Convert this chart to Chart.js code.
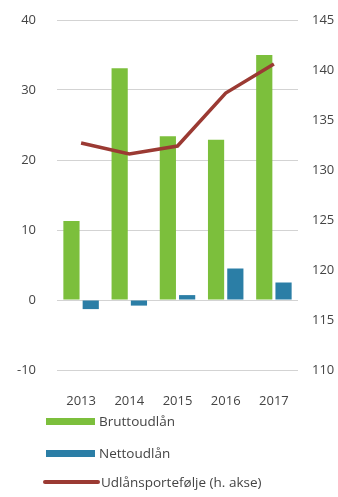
<!DOCTYPE html>
<html>
<head>
<meta charset="utf-8">
<script src="https://cdn.jsdelivr.net/npm/chart.js@4/dist/chart.umd.min.js"></script>
<style>
  html, body { margin: 0; padding: 0; background: #fff; }
  body { width: 338px; height: 497px; overflow: hidden; position: relative; font-family: "Open Sans", sans-serif; }
  #wrap { position: absolute; left: 0; top: 0; width: 338px; height: 412px; }
  #legend { position: absolute; left: 0; top: 410px; width: 338px; }
  .item { position: absolute; left: 0; height: 20px; color: #444; font-size: 13.5px; white-space: nowrap; }
  .item .sw { position: absolute; }
  .item .tx { position: absolute; top: 0; line-height: 20px; }
</style>
</head>
<body>
<div id="wrap"><canvas id="chart"></canvas></div>
<div id="legend"></div>
<script>
// years and series
const YEARS = ["2013", "2014", "2015", "2016", "2017"];
const BRUTTO = [11.3, 33.1, 23.4, 22.9, 35.0];
const NETTO = [-1.3, -0.8, 0.7, 4.5, 2.5];
const PORTEFOLJE = [132.7, 131.6, 132.4, 137.7, 140.6];

const GREEN = "#7cbf3c";
const BLUE = "#2b7ea6";
const RED = "#9b3a33";
const tickFont = { family: "Open Sans", size: 13 };

// invisible tick marks push the labels away from the plot without adding vertical padding
const chart = new Chart(document.getElementById("chart").getContext("2d"), {
  type: "bar",
  data: {
    labels: YEARS,
    datasets: [
      { type: "line", label: "Udlånsportefølje (h. akse)", data: PORTEFOLJE, yAxisID: "y1", borderColor: RED, backgroundColor: RED, borderWidth: 3.5, pointRadius: 0, tension: 0, order: 0 },
      { label: "Bruttoudlån", data: BRUTTO, yAxisID: "y", backgroundColor: GREEN, barPercentage: 0.84, categoryPercentage: 0.8, order: 1 },
      { label: "Nettoudlån", data: NETTO, yAxisID: "y", backgroundColor: BLUE, barPercentage: 0.84, categoryPercentage: 0.8, order: 1 },
    ],
  },
  options: {
    responsive: true, maintainAspectRatio: false, animation: false,
    layout: { padding: { top: 20, left: 0, right: 0, bottom: 0 } },
    plugins: { legend: { display: false }, tooltip: { enabled: false } },
    scales: {
      x: {
        grid: { display: false }, border: { display: false },
        ticks: { font: tickFont, color: "#444", padding: 15 },
        afterFit: (s) => { s.height = 42; },
      },
      y: {
        min: -10, max: 40,
        grid: { color: "#d3d3d3", lineWidth: 1, drawTicks: true, tickLength: 21, tickColor: "rgba(0,0,0,0)" },
        border: { display: false },
        ticks: { stepSize: 10, font: tickFont, color: "#444", padding: 0 },
        afterFit: (s) => { s.width = 57; },
      },
      y1: {
        position: "right", min: 110, max: 145,
        grid: { display: false, drawOnChartArea: false, drawTicks: true, tickLength: 14, tickColor: "rgba(0,0,0,0)" },
        border: { display: false },
        ticks: { stepSize: 5, font: tickFont, color: "#444", padding: 0 },
        afterFit: (s) => { s.width = 40; },
      },
    },
  },
});

// stacked legend under the chart
const legendItems = [
  { text: "Bruttoudlån", color: GREEN, top: 1, left: 46, w: 49, h: 7, tx: 99, r: 0 },
  { text: "Nettoudlån", color: BLUE, top: 33, left: 46, w: 49, h: 7, tx: 99, r: 0 },
  { text: "Udlånsportefølje (h. akse)", color: RED, top: 62, left: 43, w: 57, h: 4, tx: 101, r: 2 },
];
const legendEl = document.getElementById("legend");
legendItems.forEach((it) => {
  const row = document.createElement("div");
  row.className = "item";
  row.style.top = it.top + "px";
  row.innerHTML = `<span class="sw" style="left:${it.left}px;width:${it.w}px;height:${it.h}px;top:${(20 - it.h) / 2}px;background:${it.color};border-radius:${it.r}px"></span><span class="tx" style="left:${it.tx}px">${it.text}</span>`;
  legendEl.appendChild(row);
});
</script>
</body>
</html>
